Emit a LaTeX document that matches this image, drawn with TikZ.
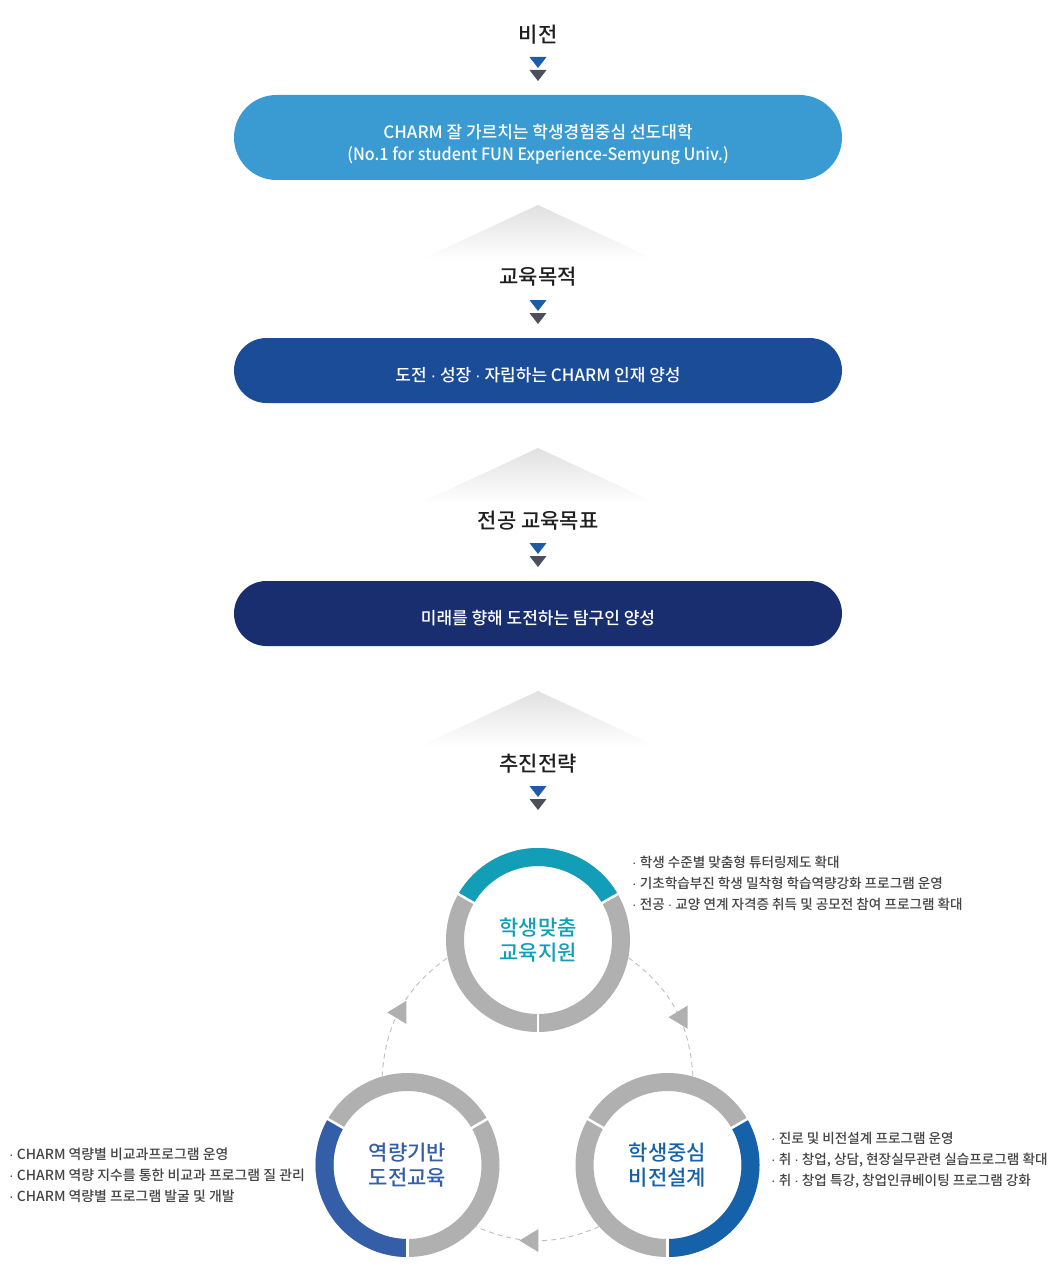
\documentclass[tikz,border=0pt]{standalone}
\usepackage{fontspec}
\setmainfont{Noto Sans CJK KR Medium}
\newfontfamily\dotfont{Liberation Sans}
\newcommand\midot{{\dotfont ·}}
\usepackage{tikz}
\usetikzlibrary{calc,positioning,shapes.misc}

\definecolor{visionblue}{RGB}{57,155,209}
\definecolor{aimblue}{RGB}{26,76,152}
\definecolor{majornavy}{RGB}{25,46,110}
\definecolor{tipblue}{RGB}{29,92,166}
\definecolor{tipgray}{RGB}{75,79,92}
\definecolor{ringgray}{RGB}{176,176,176}
\definecolor{fitteal}{RGB}{19,158,184}
\definecolor{careerblue}{RGB}{22,98,170}
\definecolor{compblue}{RGB}{52,94,168}
\definecolor{dashgray}{RGB}{190,190,190}
\definecolor{listgray}{RGB}{68,68,68}

\begin{document}
\begin{tikzpicture}[x=1pt,y=1pt]
\tikzstyle{head}=[font=\fontsize{21}{25}\selectfont, text=black!88, inner sep=0pt]
\tikzstyle{band}=[rounded rectangle, minimum width=608pt, text=white, align=center, inner sep=0pt, font=\fontsize{17}{22}\selectfont]
\tikzstyle{ring}=[circle, minimum size=184pt, inner sep=0pt, align=center, font=\fontsize{21}{25}\selectfont]
\tikzstyle{listtxt}=[align=left, anchor=west, text=listgray, inner sep=0pt, font=\fontsize{13.6}{21}\selectfont]
\tikzstyle{flowarc}=[dashgray, line width=0.9pt, dash pattern=on 5pt off 4pt]
\useasboundingbox (0,0) rectangle (1057,-1276);

% main column
\node[head] (visionhd) at (538,-35) {비전};
\node[band, fill=visionblue, minimum height=85pt] (vision) at (538,-137.5)
  {\rule{0pt}{28pt}CHARM 잘 가르치는 학생경험중심 선도대학\\{\addfontfeature{FakeStretch=0.95}(No.1 for student FUN Experience-Semyung Univ.)}};
\node[head] (aimhd) at (538,-277) {교육목적};
\node[band, fill=aimblue, minimum height=65pt] (aim) at (538,-370.5)
  {\rule{0pt}{23pt}도전 \midot{} 성장 \midot{} 자립하는 CHARM 인재 양성};
\node[head] (majorhd) at (538,-521) {전공 교육목표};
\node[band, fill=majornavy, minimum height=65pt] (major) at (538,-613.5)
  {\rule{0pt}{23pt}미래를 향해 도전하는 탐구인 양성};
\node[head] (strathd) at (538,-764) {추진전략};

% double arrow tips and fading roofs
\foreach \y in {57,300,543,786} {
  \fill[tipblue] (529.5,-\y) -- (546.5,-\y) -- (538,-\y-11) -- cycle;
  \fill[tipgray] (529.5,-\y-13) -- (546.5,-\y-13) -- (538,-\y-24) -- cycle;
}
\foreach \y in {205,448,691}
  \shade[top color=black!12, middle color=black!14, bottom color=white]
    (420,-\y-55) -- (538,-\y) -- (656,-\y-55) -- cycle;

% strategy circles
\node[ring, text=fitteal] (fit) at (538,-940) {학생맞춤\\교육지원};
\node[ring, text=careerblue] (career) at (667.5,-1165) {학생중심\\비전설계};
\node[ring, text=compblue] (comp) at (407.5,-1165) {역량기반\\도전교육};

\foreach \c/\a/\col in {fit/30/fitteal, career/-90/careerblue, comp/150/compblue} {
  \draw[ringgray, line width=18pt] (\c) circle[radius=83];
  \draw[\col, line width=18pt] ($(\c)+(\a:83)$) arc[start angle=\a, delta angle=120, radius=83];
  \foreach \g in {30,150,270}
    \draw[white, line width=2.5pt] ($(\c)+(\g:72)$) -- ($(\c)+(\g:94)$);
}

% cycle between circles
\draw[flowarc] (fit.-11) to[bend left=25] coordinate[pos=0.57] (tipR) (career.74);
\draw[flowarc] (career.222) to[bend left=23] coordinate[pos=0.56] (tipB) (comp.318);
\draw[flowarc] (comp.106) to[bend left=25] coordinate[pos=0.47] (tipL) (fit.191);
\foreach \t in {tipR,tipB,tipL}
  \fill[ringgray] ($(\t)+(-11,0)$) -- ($(\t)+(8,11.5)$) -- ($(\t)+(8,-11.5)$) -- cycle;

% action lists
\node[listtxt] (fitlist) at (632,-883)
  {\midot{} 학생 수준별 맞춤형 튜터링제도 확대\\\midot{} 기초학습부진 학생 밀착형 학습역량강화 프로그램 운영\\\midot{} 전공 \midot{} 교양 연계 자격증 취득 및 공모전 참여 프로그램 확대};
\node[listtxt] (careerlist) at (771,-1160)
  {\midot{} 진로 및 비전설계 프로그램 운영\\\midot{} 취 \midot{} 창업, 상담, 현장실무관련 실습프로그램 확대\\\midot{} 취 \midot{} 창업 특강, 창업인큐베이팅 프로그램 강화};
\node[listtxt, font=\fontsize{13.9}{21}\selectfont] (complist) at (9,-1175)
  {\midot{} CHARM 역량별 비교과프로그램 운영\\\midot{} CHARM 역량 지수를 통한 비교과 프로그램 질 관리\\\midot{} CHARM 역량별 프로그램 발굴 및 개발};
\end{tikzpicture}
\end{document}
